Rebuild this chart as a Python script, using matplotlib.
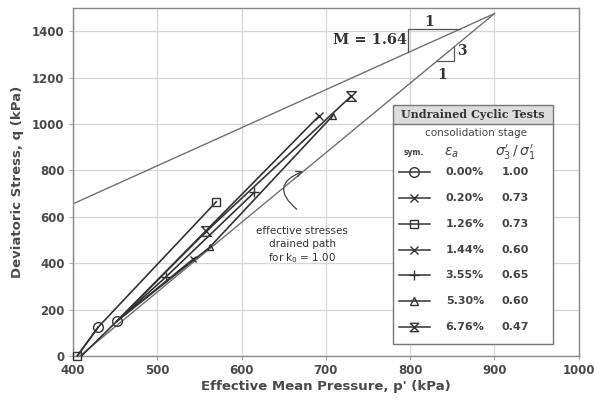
import numpy as np
import matplotlib
matplotlib.use("Agg")
import matplotlib.pyplot as plt
from matplotlib.patches import Rectangle
from matplotlib.lines import Line2D

# ---------------- data ----------------
eps_labels = ["0.00%", "0.20%", "1.26%", "1.44%", "3.55%", "5.30%", "6.76%"]
ratio_labels = ["1.00", "0.73", "0.73", "0.60", "0.65", "0.60", "0.47"]

p_circle = [405, 430, np.nan, 410, 452]
q_circle = [0, 125, np.nan, 0, 150]
p_020 = [452, 542]
q_020 = [150, 416]
p_126 = [405, 430, 570]
q_126 = [0, 125, 665]
p_144 = [452, 692]
q_144 = [150, 1035]
p_355 = [452, 510, 615]
q_355 = [150, 340, 705]
p_530 = [452, 562, 708]
q_530 = [150, 468, 1035]
p_676 = [452, 558, 730]
q_676 = [150, 537, 1120]

M_slope = 1.64
csl_p = [400, 900]
drained_p = [408, 900]
drained_slope = 3.0

x_ticks = [400, 500, 600, 700, 800, 900, 1000]
y_ticks = [0, 200, 400, 600, 800, 1000, 1200, 1400]

# ---------------- figure ----------------
fig = plt.figure(figsize=(5.96, 4.07), dpi=100)
ax = fig.add_axes([0.1225, 0.1253, 0.8485, 0.855])
ax.set_xlim(400, 1000)
ax.set_ylim(0, 1500)

txtc = "#4a4a4a"
linec = "#333333"

ax.set_xticks(x_ticks)
ax.set_yticks(y_ticks)
ax.grid(True, color="#d6d6d6", lw=0.9)
ax.set_axisbelow(True)
for s in ax.spines.values():
    s.set_color("#888888")
    s.set_linewidth(1.0)
ax.tick_params(length=3, color="#aaaaaa", labelsize=8.5, labelcolor=txtc, pad=3)
for lab in ax.get_xticklabels() + ax.get_yticklabels():
    lab.set_fontweight("bold")

ax.set_xlabel("Effective Mean Pressure, p' (kPa)", fontsize=9.5, fontweight="bold",
              color=txtc, labelpad=2)
ax.set_ylabel("Deviatoric Stress, q (kPa)", fontsize=9.5, fontweight="bold",
              color=txtc, labelpad=6)

# reference lines
csl_q = [M_slope * v for v in csl_p]
ax.plot(csl_p, csl_q, color="#707070", lw=1.0, zorder=2)
dr_q = [drained_slope * (v - drained_p[0]) for v in drained_p]
ax.plot(drained_p, dr_q, color="#707070", lw=1.0, zorder=2)

# slope triangles
p1 = 798
q1 = M_slope * p1
q_top = 1409
ax.plot([p1, p1, q_top / M_slope], [q1, q_top, q_top], color="#555555", lw=0.9)
ax.text(823, 1440, "1", fontsize=10, fontweight="bold", family="DejaVu Serif",
        color="#333333", ha="center", va="center")
ax.text(796, 1361, "M = 1.64", fontsize=10.5, fontweight="bold", family="DejaVu Serif",
        color="#333333", ha="right", va="center")
pv = 851.6
qh = 1270
ph = drained_p[0] + qh / drained_slope
qv = drained_slope * (pv - drained_p[0])
ax.plot([ph, pv, pv], [qh, qh, qv], color="#555555", lw=0.9)
ax.text(861, 1313, "3", fontsize=10, fontweight="bold", family="DejaVu Serif",
        color="#333333", ha="center", va="center")
ax.text(838, 1212, "1", fontsize=10, fontweight="bold", family="DejaVu Serif",
        color="#333333", ha="center", va="center")

# annotation
ax.text(672, 475, "effective stresses\ndrained path\nfor k$_0$ = 1.00", fontsize=7.5,
        color="#333333", ha="center", va="center", linespacing=1.3)
ax.annotate("", xy=(676, 800), xytext=(668, 625),
            arrowprops=dict(arrowstyle="->", color="#444444", lw=0.9,
                            connectionstyle="arc3,rad=-0.9"))

# series
hour = [(-1, 1), (1, 1), (-1, -1), (1, -1), (-1, 1)]
kw = dict(color=linec, lw=1.2, mfc="none", mec=linec, mew=1.0, zorder=3)
h0, = ax.plot(p_circle, q_circle, marker="o", ms=7, markevery=[1, 4], **kw)
h1, = ax.plot(p_020, q_020, marker="x", ms=5, markevery=[1], **kw)
h2, = ax.plot(p_126, q_126, marker="s", ms=6, markevery=[0, 2], clip_on=False, **kw)
h3, = ax.plot(p_144, q_144, marker="x", ms=6, markevery=[1], **kw)
h4, = ax.plot(p_355, q_355, marker="+", ms=7, markevery=[1, 2], **kw)
h5, = ax.plot(p_530, q_530, marker="^", ms=5, markevery=[1, 2], **kw)
h6, = ax.plot(p_676, q_676, marker=hour, ms=7, markevery=[1, 2], **kw)
syms = ["o", "x", "s", "x", "+", "^", hour]

# legend box (axes coords)
x0, x1 = 0.632, 0.949
ax.add_patch(Rectangle((x0, 0.035), x1 - x0, 0.635, transform=ax.transAxes,
                       facecolor="white", edgecolor="#777777", lw=1.0, zorder=5))
ax.add_patch(Rectangle((x0, 0.667), x1 - x0, 0.053, transform=ax.transAxes,
                       facecolor="#dcdcdc", edgecolor="#777777", lw=1.0, zorder=5))
ax.text((x0 + x1) / 2, 0.694, "Undrained Cyclic Tests", transform=ax.transAxes,
        fontsize=8, fontweight="bold", family="DejaVu Serif", color="#333333",
        ha="center", va="center", zorder=6)
ax.text(0.796, 0.64, "consolidation stage", transform=ax.transAxes, fontsize=7.5,
        color="#444444", ha="center", va="center", zorder=6)
ax.text(0.673, 0.585, "sym.", transform=ax.transAxes, fontsize=5.5, fontweight="bold",
        color="#444444", ha="center", va="center", zorder=6)
ax.text(0.748, 0.585, r"$\varepsilon_a$", transform=ax.transAxes, fontsize=10,
        color="#444444", ha="center", va="center", zorder=6)
ax.text(0.875, 0.585, r"$\sigma_3'\,/\,\sigma_1'$", transform=ax.transAxes, fontsize=10,
        color="#444444", ha="center", va="center", zorder=6)

row_top, row_bot = 0.529, 0.083
rows_y = np.linspace(row_top, row_bot, len(eps_labels))
for yy, e, r, m in zip(rows_y, eps_labels, ratio_labels, syms):
    ms = 7 if m in ("o", "+") else 6
    ax.add_line(Line2D([0.645, 0.705], [yy, yy], transform=ax.transAxes, color=linec,
                       lw=1.1, zorder=6))
    ax.add_line(Line2D([0.675], [yy], transform=ax.transAxes, color=linec, lw=0,
                       marker=m, ms=ms, mfc="none", mec=linec, mew=1.0, zorder=6))
    ax.text(0.775, yy, e, transform=ax.transAxes, fontsize=8, fontweight="bold",
            color="#444444", ha="center", va="center", zorder=6)
    ax.text(0.875, yy, r, transform=ax.transAxes, fontsize=8, fontweight="bold",
            color="#444444", ha="center", va="center", zorder=6)

fig.savefig("out.png", dpi=100)
